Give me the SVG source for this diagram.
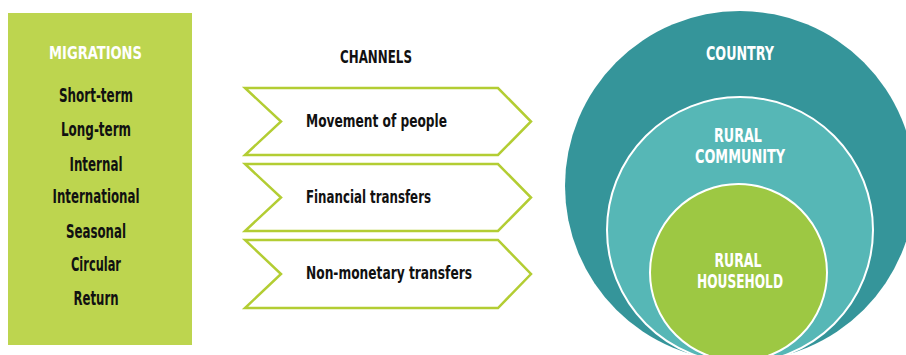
<svg xmlns="http://www.w3.org/2000/svg" width="906" height="355" viewBox="0 0 906 355">
<style>
text{font-family:"Liberation Sans Narrow","DejaVu Sans Condensed","Liberation Sans",sans-serif;font-weight:bold;text-anchor:middle}
.w{fill:#ffffff}
.k{fill:#111111}
.chev{fill:#ffffff;stroke:#B3CD33;stroke-width:2.5;stroke-linejoin:miter}
</style>
<rect width="906" height="355" fill="#ffffff"/>
<g id="migrations">
<rect x="8" y="13" width="184" height="332" fill="#BDD54F"/>
<text class="w" x="95.5" y="59" font-size="18" textLength="93" lengthAdjust="spacingAndGlyphs">MIGRATIONS</text>
<text class="k" x="96" y="102" font-size="19" textLength="74" lengthAdjust="spacingAndGlyphs">Short-term</text>
<text class="k" x="96" y="136" font-size="19" textLength="70" lengthAdjust="spacingAndGlyphs">Long-term</text>
<text class="k" x="96" y="171" font-size="19" textLength="53" lengthAdjust="spacingAndGlyphs">Internal</text>
<text class="k" x="96" y="203" font-size="19" textLength="87" lengthAdjust="spacingAndGlyphs">International</text>
<text class="k" x="96" y="238" font-size="19" textLength="60" lengthAdjust="spacingAndGlyphs">Seasonal</text>
<text class="k" x="96" y="271" font-size="19" textLength="50" lengthAdjust="spacingAndGlyphs">Circular</text>
<text class="k" x="96" y="305" font-size="19" textLength="45" lengthAdjust="spacingAndGlyphs">Return</text>
</g>
<g id="channels-title">
<text class="k" x="376" y="63" font-size="18" textLength="72" lengthAdjust="spacingAndGlyphs">CHANNELS</text>
</g>
<g id="channel-movement">
<polygon class="chev" points="245,88 498,88 531,121.5 498,155 245,155 281,121.5"/>
<text class="k" x="376.5" y="127" font-size="17" textLength="141" lengthAdjust="spacingAndGlyphs">Movement of people</text>
</g>
<g id="channel-financial">
<polygon class="chev" points="245,164 498,164 531,197.5 498,231 245,231 281,197.5"/>
<text class="k" x="368.5" y="203" font-size="17" textLength="125" lengthAdjust="spacingAndGlyphs">Financial transfers</text>
</g>
<g id="channel-nonmonetary">
<polygon class="chev" points="245,240 498,240 531,274 498,308 245,308 281,274"/>
<text class="k" x="389" y="279" font-size="17" textLength="166" lengthAdjust="spacingAndGlyphs">Non-monetary transfers</text>
</g>
<g id="connectors"></g>
<g id="country">
<circle cx="740" cy="186" r="175" fill="#35959A"/>
<text class="w" x="740" y="60" font-size="19" textLength="68" lengthAdjust="spacingAndGlyphs">COUNTRY</text>
</g>
<g id="rural-community">
<circle cx="740" cy="230" r="133" fill="#56B7B6" stroke="#ffffff" stroke-width="2"/>
<text class="w" x="738" y="141.7" font-size="19" textLength="48" lengthAdjust="spacingAndGlyphs">RURAL</text>
<text class="w" x="740" y="162.7" font-size="19" textLength="90" lengthAdjust="spacingAndGlyphs">COMMUNITY</text>
</g>
<g id="rural-household">
<circle cx="738.5" cy="272.5" r="88.5" fill="#9DC843" stroke="#ffffff" stroke-width="2"/>
<text class="w" x="738" y="266.7" font-size="19" textLength="47" lengthAdjust="spacingAndGlyphs">RURAL</text>
<text class="w" x="740" y="288.3" font-size="19" textLength="86" lengthAdjust="spacingAndGlyphs">HOUSEHOLD</text>
</g>
</svg>
